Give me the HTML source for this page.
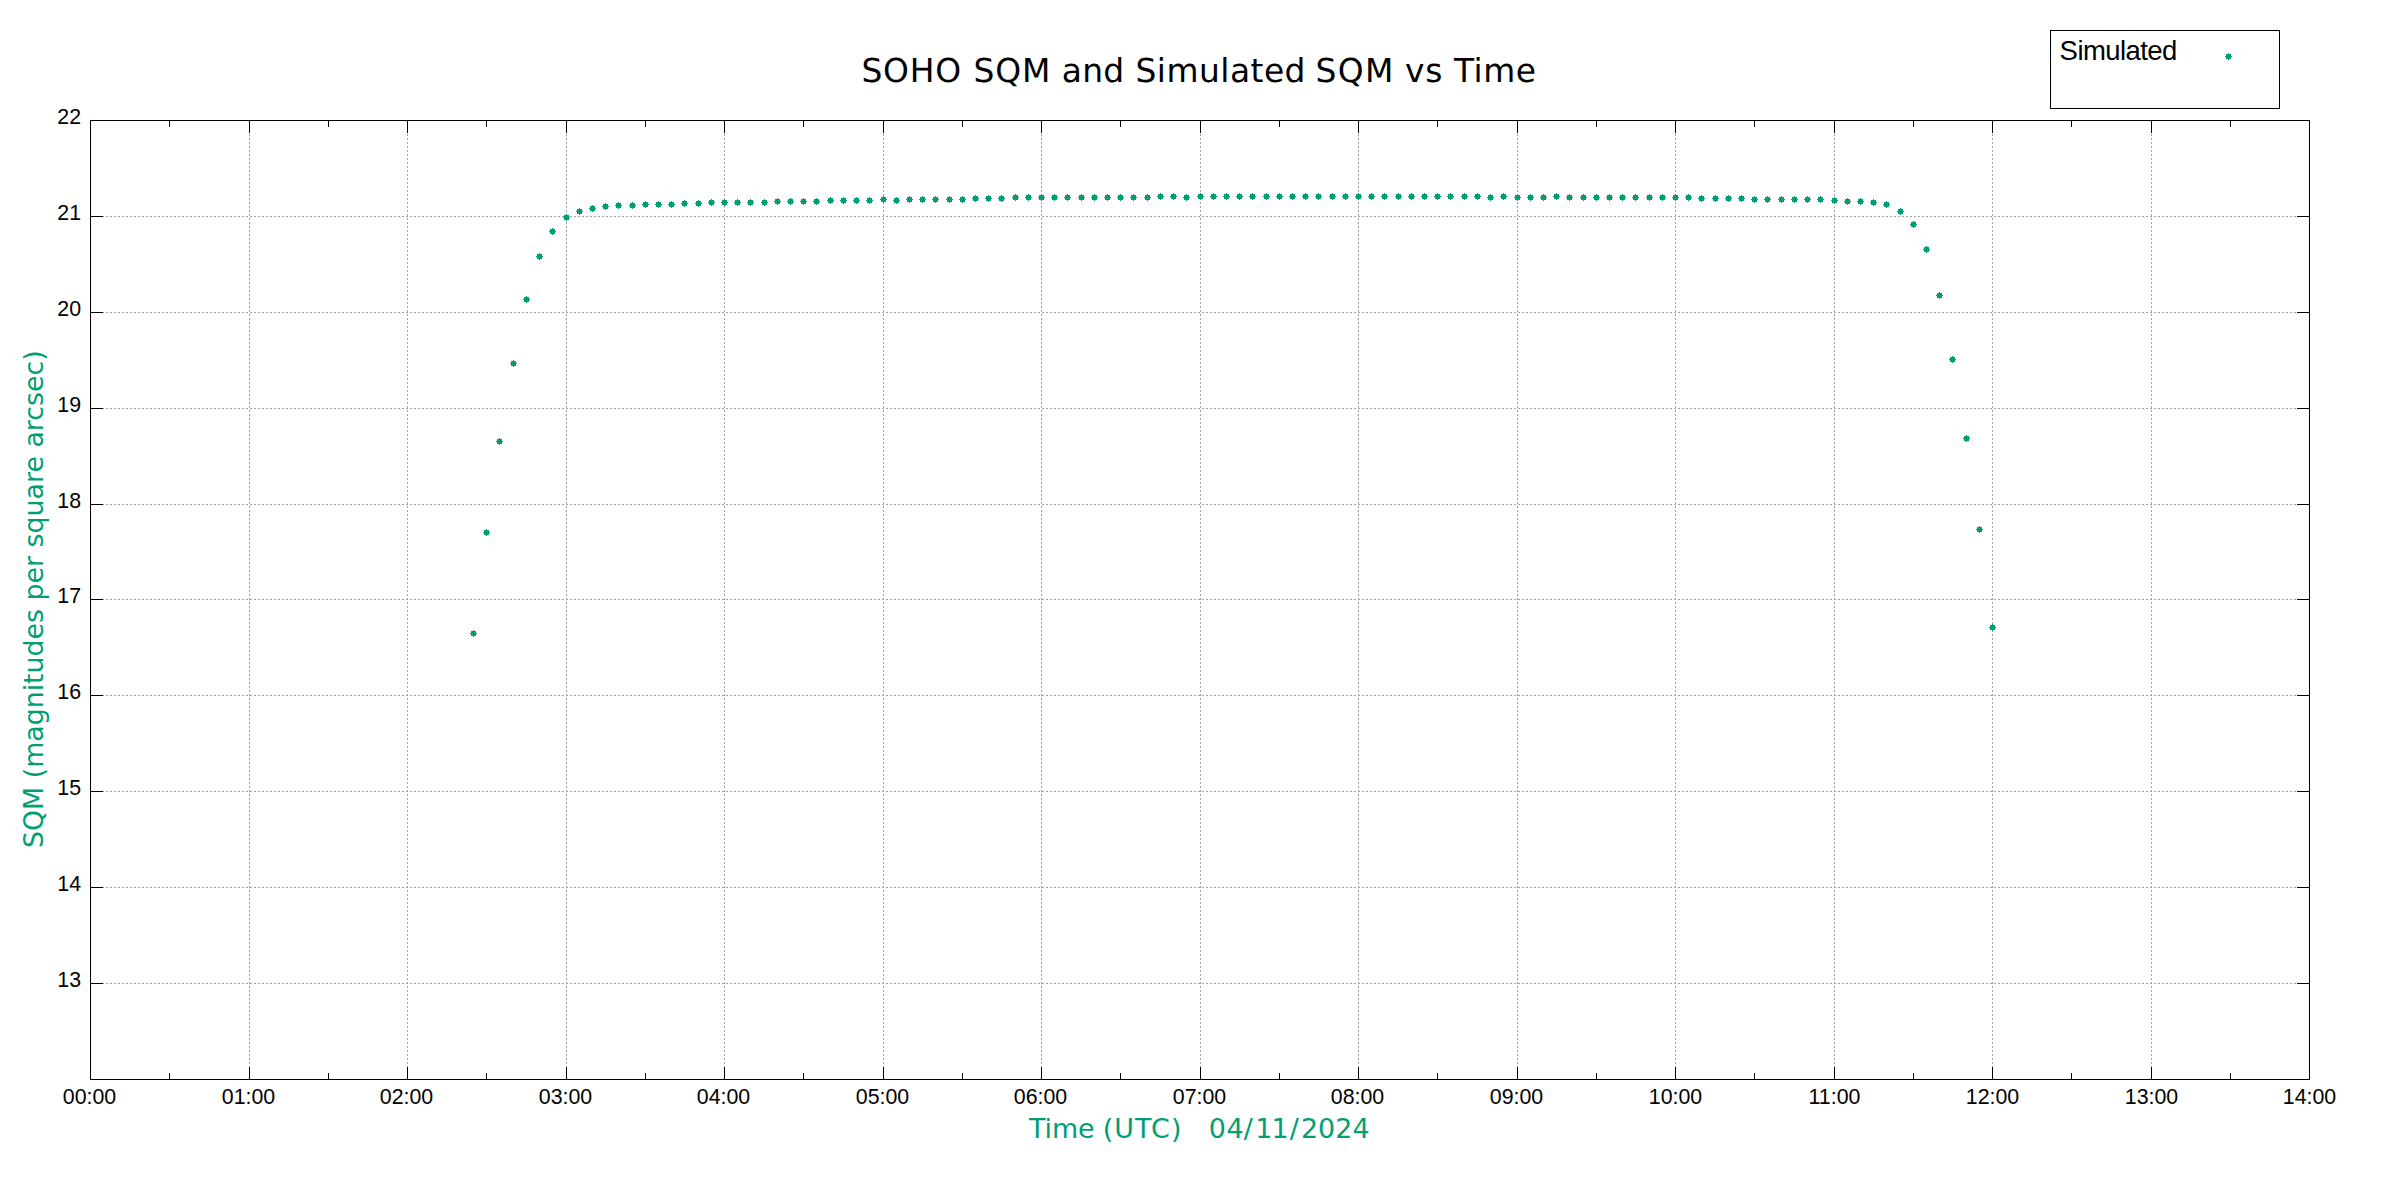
<!DOCTYPE html>
<html lang="en"><head><meta charset="utf-8"><title>SOHO SQM and Simulated SQM vs Time</title>
<style>html,body{margin:0;padding:0;background:#fff;}body{width:2400px;height:1200px;overflow:hidden;}svg{display:block;}.a{font-family:"Liberation Sans",Arial,Helvetica,sans-serif;fill:#000;}.v{font-family:"DejaVu Sans",Verdana,sans-serif;}</style></head><body>
<svg width="2400" height="1200" viewBox="0 0 2400 1200">
<rect x="0" y="0" width="2400" height="1200" fill="#ffffff"/>
<g stroke="#a2a2a2" stroke-width="1" stroke-dasharray="2 2" shape-rendering="crispEdges" fill="none">
<line x1="90" y1="216.5" x2="2310" y2="216.5"/>
<line x1="90" y1="312.5" x2="2310" y2="312.5"/>
<line x1="90" y1="408.5" x2="2310" y2="408.5"/>
<line x1="90" y1="504.5" x2="2310" y2="504.5"/>
<line x1="90" y1="599.5" x2="2310" y2="599.5"/>
<line x1="90" y1="695.5" x2="2310" y2="695.5"/>
<line x1="90" y1="791.5" x2="2310" y2="791.5"/>
<line x1="90" y1="887.5" x2="2310" y2="887.5"/>
<line x1="90" y1="983.5" x2="2310" y2="983.5"/>
<line x1="249.5" y1="1080" x2="249.5" y2="120"/>
<line x1="407.5" y1="1080" x2="407.5" y2="120"/>
<line x1="566.5" y1="1080" x2="566.5" y2="120"/>
<line x1="724.5" y1="1080" x2="724.5" y2="120"/>
<line x1="883.5" y1="1080" x2="883.5" y2="120"/>
<line x1="1041.5" y1="1080" x2="1041.5" y2="120"/>
<line x1="1200.5" y1="1080" x2="1200.5" y2="120"/>
<line x1="1358.5" y1="1080" x2="1358.5" y2="120"/>
<line x1="1517.5" y1="1080" x2="1517.5" y2="120"/>
<line x1="1675.5" y1="1080" x2="1675.5" y2="120"/>
<line x1="1834.5" y1="1080" x2="1834.5" y2="120"/>
<line x1="1992.5" y1="1080" x2="1992.5" y2="120"/>
<line x1="2151.5" y1="1080" x2="2151.5" y2="120"/>
</g>
<g fill="#000" shape-rendering="crispEdges">
<rect x="91" y="216" width="12" height="1"/>
<rect x="2297" y="216" width="12" height="1"/>
<rect x="91" y="312" width="12" height="1"/>
<rect x="2297" y="312" width="12" height="1"/>
<rect x="91" y="408" width="12" height="1"/>
<rect x="2297" y="408" width="12" height="1"/>
<rect x="91" y="504" width="12" height="1"/>
<rect x="2297" y="504" width="12" height="1"/>
<rect x="91" y="599" width="12" height="1"/>
<rect x="2297" y="599" width="12" height="1"/>
<rect x="91" y="695" width="12" height="1"/>
<rect x="2297" y="695" width="12" height="1"/>
<rect x="91" y="791" width="12" height="1"/>
<rect x="2297" y="791" width="12" height="1"/>
<rect x="91" y="887" width="12" height="1"/>
<rect x="2297" y="887" width="12" height="1"/>
<rect x="91" y="983" width="12" height="1"/>
<rect x="2297" y="983" width="12" height="1"/>
<rect x="169" y="121" width="1" height="6"/>
<rect x="169" y="1073" width="1" height="6"/>
<rect x="249" y="121" width="1" height="12"/>
<rect x="249" y="1067" width="1" height="12"/>
<rect x="328" y="121" width="1" height="6"/>
<rect x="328" y="1073" width="1" height="6"/>
<rect x="407" y="121" width="1" height="12"/>
<rect x="407" y="1067" width="1" height="12"/>
<rect x="486" y="121" width="1" height="6"/>
<rect x="486" y="1073" width="1" height="6"/>
<rect x="566" y="121" width="1" height="12"/>
<rect x="566" y="1067" width="1" height="12"/>
<rect x="645" y="121" width="1" height="6"/>
<rect x="645" y="1073" width="1" height="6"/>
<rect x="724" y="121" width="1" height="12"/>
<rect x="724" y="1067" width="1" height="12"/>
<rect x="803" y="121" width="1" height="6"/>
<rect x="803" y="1073" width="1" height="6"/>
<rect x="883" y="121" width="1" height="12"/>
<rect x="883" y="1067" width="1" height="12"/>
<rect x="962" y="121" width="1" height="6"/>
<rect x="962" y="1073" width="1" height="6"/>
<rect x="1041" y="121" width="1" height="12"/>
<rect x="1041" y="1067" width="1" height="12"/>
<rect x="1120" y="121" width="1" height="6"/>
<rect x="1120" y="1073" width="1" height="6"/>
<rect x="1200" y="121" width="1" height="12"/>
<rect x="1200" y="1067" width="1" height="12"/>
<rect x="1279" y="121" width="1" height="6"/>
<rect x="1279" y="1073" width="1" height="6"/>
<rect x="1358" y="121" width="1" height="12"/>
<rect x="1358" y="1067" width="1" height="12"/>
<rect x="1437" y="121" width="1" height="6"/>
<rect x="1437" y="1073" width="1" height="6"/>
<rect x="1517" y="121" width="1" height="12"/>
<rect x="1517" y="1067" width="1" height="12"/>
<rect x="1596" y="121" width="1" height="6"/>
<rect x="1596" y="1073" width="1" height="6"/>
<rect x="1675" y="121" width="1" height="12"/>
<rect x="1675" y="1067" width="1" height="12"/>
<rect x="1754" y="121" width="1" height="6"/>
<rect x="1754" y="1073" width="1" height="6"/>
<rect x="1834" y="121" width="1" height="12"/>
<rect x="1834" y="1067" width="1" height="12"/>
<rect x="1913" y="121" width="1" height="6"/>
<rect x="1913" y="1073" width="1" height="6"/>
<rect x="1992" y="121" width="1" height="12"/>
<rect x="1992" y="1067" width="1" height="12"/>
<rect x="2071" y="121" width="1" height="6"/>
<rect x="2071" y="1073" width="1" height="6"/>
<rect x="2151" y="121" width="1" height="12"/>
<rect x="2151" y="1067" width="1" height="12"/>
<rect x="2230" y="121" width="1" height="6"/>
<rect x="2230" y="1073" width="1" height="6"/>
</g>
<rect x="90.5" y="120.5" width="2219" height="959" fill="none" stroke="#000" stroke-width="1" shape-rendering="crispEdges"/>
<g class="a" font-size="21.33" text-anchor="end">
<text x="81" y="987.3">13</text>
<text x="81" y="891.3">14</text>
<text x="81" y="795.3">15</text>
<text x="81" y="699.3">16</text>
<text x="81" y="603.3">17</text>
<text x="81" y="508.3">18</text>
<text x="81" y="412.3">19</text>
<text x="81" y="316.3">20</text>
<text x="81" y="220.3">21</text>
<text x="81" y="124.3">22</text>
</g>
<g class="a" font-size="21.33" text-anchor="middle">
<text x="89.5" y="1104">00:00</text>
<text x="248.5" y="1104">01:00</text>
<text x="406.5" y="1104">02:00</text>
<text x="565.5" y="1104">03:00</text>
<text x="723.5" y="1104">04:00</text>
<text x="882.5" y="1104">05:00</text>
<text x="1040.5" y="1104">06:00</text>
<text x="1199.5" y="1104">07:00</text>
<text x="1357.5" y="1104">08:00</text>
<text x="1516.5" y="1104">09:00</text>
<text x="1675.5" y="1104">10:00</text>
<text x="1834.5" y="1104">11:00</text>
<text x="1992.5" y="1104">12:00</text>
<text x="2151.5" y="1104">13:00</text>
<text x="2309.5" y="1104">14:00</text>
</g>
<text class="v" y="82" font-size="32.9" fill="#000" text-rendering="geometricPrecision"><tspan x="861.47" letter-spacing="0.744">SOHO</tspan> <tspan x="973.47" letter-spacing="0.913">SQM</tspan> <tspan x="1061.65" letter-spacing="0.338">and</tspan> <tspan x="1135.47" letter-spacing="0.474">Simulated</tspan> <tspan x="1315.47" letter-spacing="1.413">SQM</tspan> <tspan x="1405.02" letter-spacing="0.743">vs</tspan> <tspan x="1453.99" letter-spacing="0.532">Time</tspan></text>
<text class="v" y="1138" font-size="26.9" fill="#009e73"><tspan x="1028.93" letter-spacing="-0.046">Time</tspan> <tspan x="1102.74" letter-spacing="1.097">(UTC)</tspan> <tspan x="1208.71" letter-spacing="0.712">04</tspan><tspan x="1243.87">/</tspan><tspan x="1255.15" letter-spacing="-0.659">11</tspan><tspan x="1289.77">/</tspan><tspan x="1300.93" letter-spacing="0.082">2024</tspan></text>
<text class="v" transform="translate(43,599.2) rotate(-90)" font-size="26.8" text-anchor="middle" fill="#009e73">SQM (magnitudes per square arcsec)</text>
<rect x="2050.5" y="30.5" width="229" height="78" fill="none" stroke="#000" stroke-width="1" shape-rendering="crispEdges"/>
<text class="a" x="2059.6" y="60" font-size="27.5" letter-spacing="-0.56">Simulated</text>
<path fill="#009e73" shape-rendering="crispEdges" d="M2226 54h5v5h-5zM2225 56h7v1h-7zM2228 53h1v7h-1z M471 631h5v5h-5zM470 633h7v1h-7zM473 630h1v7h-1z M484 530h5v5h-5zM483 532h7v1h-7zM486 529h1v7h-1z M497 439h5v5h-5zM496 441h7v1h-7zM499 438h1v7h-1z M511 361h5v5h-5zM510 363h7v1h-7zM513 360h1v7h-1z M524 297h5v5h-5zM523 299h7v1h-7zM526 296h1v7h-1z M537 254h5v5h-5zM536 256h7v1h-7zM539 253h1v7h-1z M550 229h5v5h-5zM549 231h7v1h-7zM552 228h1v7h-1z M564 215h5v5h-5zM563 217h7v1h-7zM566 214h1v7h-1z M577 209h5v5h-5zM576 211h7v1h-7zM579 208h1v7h-1z M590 206h5v5h-5zM589 208h7v1h-7zM592 205h1v7h-1z M603 204h5v5h-5zM602 206h7v1h-7zM605 203h1v7h-1z M616 203h5v5h-5zM615 205h7v1h-7zM618 202h1v7h-1z M630 203h5v5h-5zM629 205h7v1h-7zM632 202h1v7h-1z M643 202h5v5h-5zM642 204h7v1h-7zM645 201h1v7h-1z M656 202h5v5h-5zM655 204h7v1h-7zM658 201h1v7h-1z M669 202h5v5h-5zM668 204h7v1h-7zM671 201h1v7h-1z M682 201h5v5h-5zM681 203h7v1h-7zM684 200h1v7h-1z M696 201h5v5h-5zM695 203h7v1h-7zM698 200h1v7h-1z M709 200h5v5h-5zM708 202h7v1h-7zM711 199h1v7h-1z M722 200h5v5h-5zM721 202h7v1h-7zM724 199h1v7h-1z M735 200h5v5h-5zM734 202h7v1h-7zM737 199h1v7h-1z M748 200h5v5h-5zM747 202h7v1h-7zM750 199h1v7h-1z M762 200h5v5h-5zM761 202h7v1h-7zM764 199h1v7h-1z M775 199h5v5h-5zM774 201h7v1h-7zM777 198h1v7h-1z M788 199h5v5h-5zM787 201h7v1h-7zM790 198h1v7h-1z M801 199h5v5h-5zM800 201h7v1h-7zM803 198h1v7h-1z M814 199h5v5h-5zM813 201h7v1h-7zM816 198h1v7h-1z M828 198h5v5h-5zM827 200h7v1h-7zM830 197h1v7h-1z M841 198h5v5h-5zM840 200h7v1h-7zM843 197h1v7h-1z M854 198h5v5h-5zM853 200h7v1h-7zM856 197h1v7h-1z M867 198h5v5h-5zM866 200h7v1h-7zM869 197h1v7h-1z M881 197h5v5h-5zM880 199h7v1h-7zM883 196h1v7h-1z M894 198h5v5h-5zM893 200h7v1h-7zM896 197h1v7h-1z M907 197h5v5h-5zM906 199h7v1h-7zM909 196h1v7h-1z M920 197h5v5h-5zM919 199h7v1h-7zM922 196h1v7h-1z M933 197h5v5h-5zM932 199h7v1h-7zM935 196h1v7h-1z M947 197h5v5h-5zM946 199h7v1h-7zM949 196h1v7h-1z M960 197h5v5h-5zM959 199h7v1h-7zM962 196h1v7h-1z M973 196h5v5h-5zM972 198h7v1h-7zM975 195h1v7h-1z M986 196h5v5h-5zM985 198h7v1h-7zM988 195h1v7h-1z M999 196h5v5h-5zM998 198h7v1h-7zM1001 195h1v7h-1z M1013 195h5v5h-5zM1012 197h7v1h-7zM1015 194h1v7h-1z M1026 195h5v5h-5zM1025 197h7v1h-7zM1028 194h1v7h-1z M1039 195h5v5h-5zM1038 197h7v1h-7zM1041 194h1v7h-1z M1052 195h5v5h-5zM1051 197h7v1h-7zM1054 194h1v7h-1z M1065 195h5v5h-5zM1064 197h7v1h-7zM1067 194h1v7h-1z M1079 195h5v5h-5zM1078 197h7v1h-7zM1081 194h1v7h-1z M1092 195h5v5h-5zM1091 197h7v1h-7zM1094 194h1v7h-1z M1105 195h5v5h-5zM1104 197h7v1h-7zM1107 194h1v7h-1z M1118 195h5v5h-5zM1117 197h7v1h-7zM1120 194h1v7h-1z M1131 195h5v5h-5zM1130 197h7v1h-7zM1133 194h1v7h-1z M1145 195h5v5h-5zM1144 197h7v1h-7zM1147 194h1v7h-1z M1158 194h5v5h-5zM1157 196h7v1h-7zM1160 193h1v7h-1z M1171 194h5v5h-5zM1170 196h7v1h-7zM1173 193h1v7h-1z M1184 195h5v5h-5zM1183 197h7v1h-7zM1186 194h1v7h-1z M1198 194h5v5h-5zM1197 196h7v1h-7zM1200 193h1v7h-1z M1211 194h5v5h-5zM1210 196h7v1h-7zM1213 193h1v7h-1z M1224 194h5v5h-5zM1223 196h7v1h-7zM1226 193h1v7h-1z M1237 194h5v5h-5zM1236 196h7v1h-7zM1239 193h1v7h-1z M1250 194h5v5h-5zM1249 196h7v1h-7zM1252 193h1v7h-1z M1264 194h5v5h-5zM1263 196h7v1h-7zM1266 193h1v7h-1z M1277 194h5v5h-5zM1276 196h7v1h-7zM1279 193h1v7h-1z M1290 194h5v5h-5zM1289 196h7v1h-7zM1292 193h1v7h-1z M1303 194h5v5h-5zM1302 196h7v1h-7zM1305 193h1v7h-1z M1316 194h5v5h-5zM1315 196h7v1h-7zM1318 193h1v7h-1z M1330 194h5v5h-5zM1329 196h7v1h-7zM1332 193h1v7h-1z M1343 194h5v5h-5zM1342 196h7v1h-7zM1345 193h1v7h-1z M1356 194h5v5h-5zM1355 196h7v1h-7zM1358 193h1v7h-1z M1369 194h5v5h-5zM1368 196h7v1h-7zM1371 193h1v7h-1z M1382 194h5v5h-5zM1381 196h7v1h-7zM1384 193h1v7h-1z M1396 194h5v5h-5zM1395 196h7v1h-7zM1398 193h1v7h-1z M1409 194h5v5h-5zM1408 196h7v1h-7zM1411 193h1v7h-1z M1422 194h5v5h-5zM1421 196h7v1h-7zM1424 193h1v7h-1z M1435 194h5v5h-5zM1434 196h7v1h-7zM1437 193h1v7h-1z M1448 194h5v5h-5zM1447 196h7v1h-7zM1450 193h1v7h-1z M1462 194h5v5h-5zM1461 196h7v1h-7zM1464 193h1v7h-1z M1475 194h5v5h-5zM1474 196h7v1h-7zM1477 193h1v7h-1z M1488 195h5v5h-5zM1487 197h7v1h-7zM1490 194h1v7h-1z M1501 194h5v5h-5zM1500 196h7v1h-7zM1503 193h1v7h-1z M1515 195h5v5h-5zM1514 197h7v1h-7zM1517 194h1v7h-1z M1528 195h5v5h-5zM1527 197h7v1h-7zM1530 194h1v7h-1z M1541 195h5v5h-5zM1540 197h7v1h-7zM1543 194h1v7h-1z M1554 194h5v5h-5zM1553 196h7v1h-7zM1556 193h1v7h-1z M1567 195h5v5h-5zM1566 197h7v1h-7zM1569 194h1v7h-1z M1581 195h5v5h-5zM1580 197h7v1h-7zM1583 194h1v7h-1z M1594 195h5v5h-5zM1593 197h7v1h-7zM1596 194h1v7h-1z M1607 195h5v5h-5zM1606 197h7v1h-7zM1609 194h1v7h-1z M1620 195h5v5h-5zM1619 197h7v1h-7zM1622 194h1v7h-1z M1633 195h5v5h-5zM1632 197h7v1h-7zM1635 194h1v7h-1z M1647 195h5v5h-5zM1646 197h7v1h-7zM1649 194h1v7h-1z M1660 195h5v5h-5zM1659 197h7v1h-7zM1662 194h1v7h-1z M1673 195h5v5h-5zM1672 197h7v1h-7zM1675 194h1v7h-1z M1686 195h5v5h-5zM1685 197h7v1h-7zM1688 194h1v7h-1z M1699 196h5v5h-5zM1698 198h7v1h-7zM1701 195h1v7h-1z M1713 196h5v5h-5zM1712 198h7v1h-7zM1715 195h1v7h-1z M1726 196h5v5h-5zM1725 198h7v1h-7zM1728 195h1v7h-1z M1739 196h5v5h-5zM1738 198h7v1h-7zM1741 195h1v7h-1z M1752 197h5v5h-5zM1751 199h7v1h-7zM1754 196h1v7h-1z M1765 197h5v5h-5zM1764 199h7v1h-7zM1767 196h1v7h-1z M1779 197h5v5h-5zM1778 199h7v1h-7zM1781 196h1v7h-1z M1792 197h5v5h-5zM1791 199h7v1h-7zM1794 196h1v7h-1z M1805 197h5v5h-5zM1804 199h7v1h-7zM1807 196h1v7h-1z M1818 197h5v5h-5zM1817 199h7v1h-7zM1820 196h1v7h-1z M1832 198h5v5h-5zM1831 200h7v1h-7zM1834 197h1v7h-1z M1845 199h5v5h-5zM1844 201h7v1h-7zM1847 198h1v7h-1z M1858 199h5v5h-5zM1857 201h7v1h-7zM1860 198h1v7h-1z M1871 200h5v5h-5zM1870 202h7v1h-7zM1873 199h1v7h-1z M1884 202h5v5h-5zM1883 204h7v1h-7zM1886 201h1v7h-1z M1898 209h5v5h-5zM1897 211h7v1h-7zM1900 208h1v7h-1z M1911 222h5v5h-5zM1910 224h7v1h-7zM1913 221h1v7h-1z M1924 247h5v5h-5zM1923 249h7v1h-7zM1926 246h1v7h-1z M1937 293h5v5h-5zM1936 295h7v1h-7zM1939 292h1v7h-1z M1950 357h5v5h-5zM1949 359h7v1h-7zM1952 356h1v7h-1z M1964 436h5v5h-5zM1963 438h7v1h-7zM1966 435h1v7h-1z M1977 527h5v5h-5zM1976 529h7v1h-7zM1979 526h1v7h-1z M1990 625h5v5h-5zM1989 627h7v1h-7zM1992 624h1v7h-1z"/>
</svg></body></html>
